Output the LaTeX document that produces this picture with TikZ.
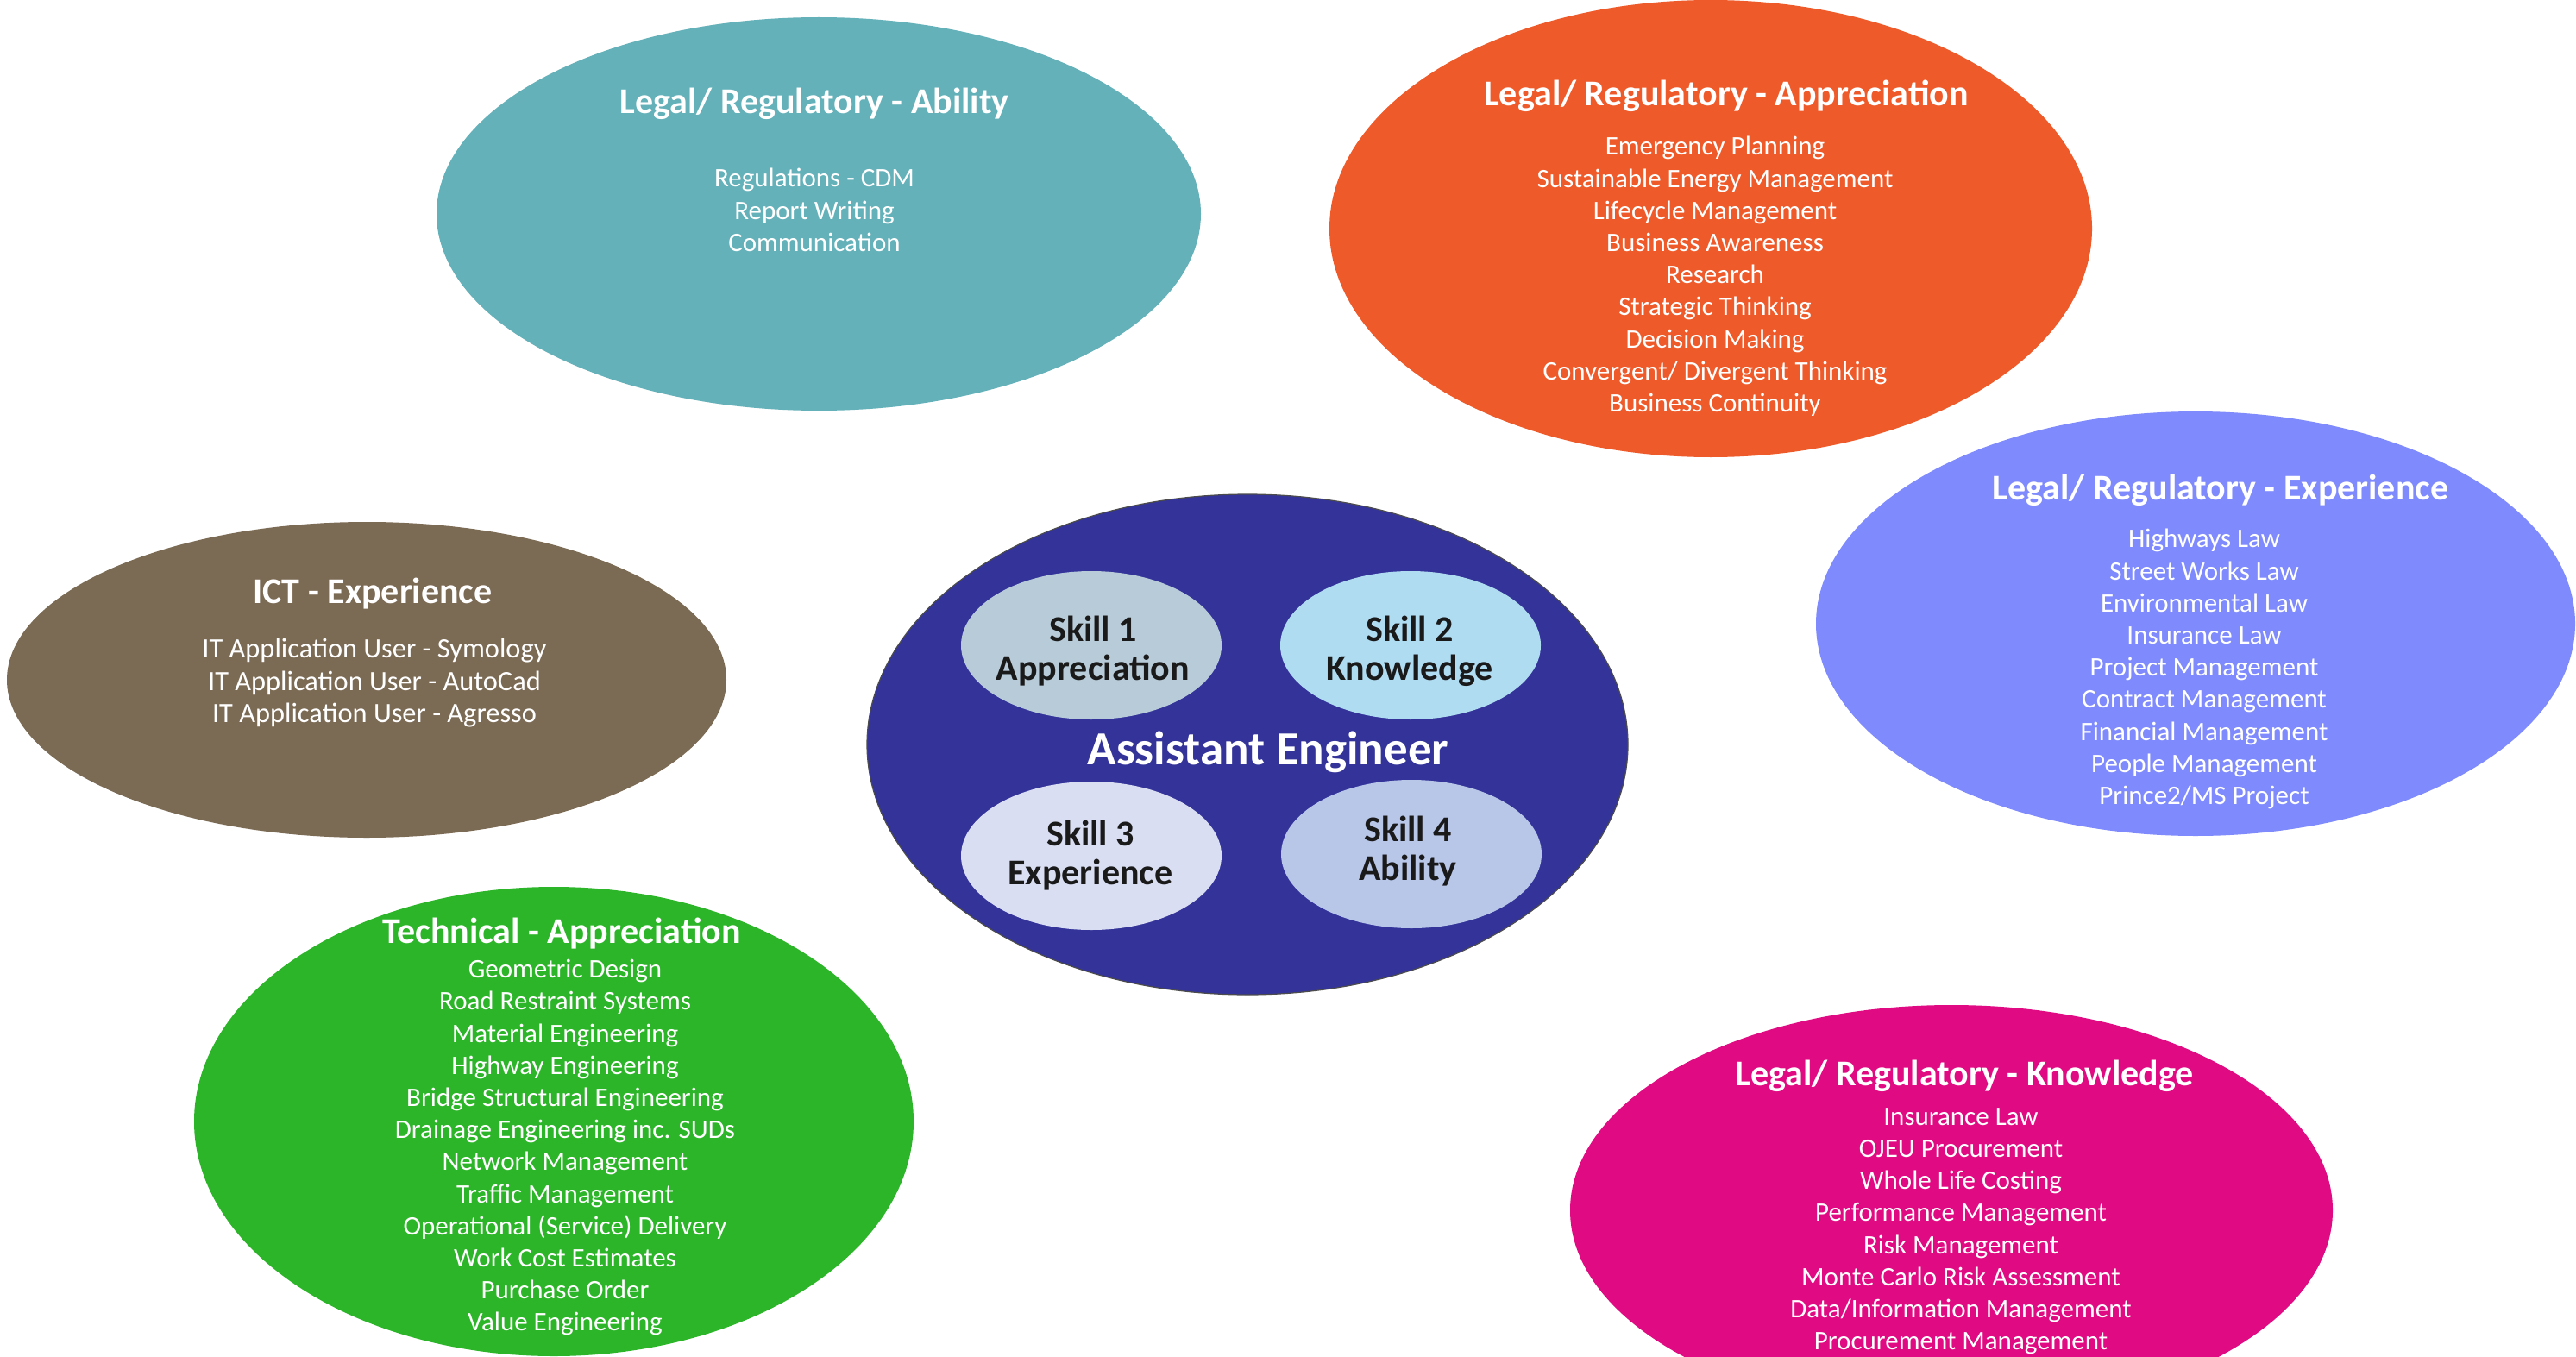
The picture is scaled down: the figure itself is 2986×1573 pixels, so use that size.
\documentclass[tikz,border=0pt]{standalone}
\usepackage{fontspec}
\setmainfont{Carlito}
\usetikzlibrary{shapes.geometric}
\definecolor{cteal}{HTML}{64B1B9}
\definecolor{corange}{HTML}{EF5A2A}
\definecolor{cperi}{HTML}{7F8BFC}
\definecolor{cbrown}{HTML}{7B6A54}
\definecolor{cnavy}{HTML}{333399}
\definecolor{cgreen}{HTML}{2DB52A}
\definecolor{cmagenta}{HTML}{E00B82}
\definecolor{sone}{HTML}{B8CBD8}
\definecolor{stwo}{HTML}{B0DCF2}
\definecolor{sthree}{HTML}{D9DEF2}
\definecolor{sfour}{HTML}{B8C6E8}
\definecolor{skilltext}{HTML}{1A1A1A}
\begin{document}
\begin{tikzpicture}[x=0.5pt,y=-0.5pt,
  blob/.style={ellipse, inner sep=0pt, draw=none},
  ttl/.style={text=white, font=\fontsize{21}{25}\selectfont\bfseries, inner sep=0pt},
  items/.style={text=white, font=\fontsize{15.5}{18.6}\selectfont, align=center, inner sep=0pt, anchor=north},
  skill/.style={text=skilltext, font=\fontsize{21}{22.5}\selectfont\bfseries, align=center, inner sep=0pt}]
\useasboundingbox (0,0) rectangle (2986,1573);
\clip (0,0) rectangle (2986,1573);

% Legal/Regulatory - Ability
\node[blob, fill=cteal, minimum width=443pt, minimum height=228pt] (abil) at (949,248) {};
\node[ttl] (abilT) at (944,120) {Legal/ Regulatory - Ability};
\node[items] (abilI) at (944,195) {Regulations - CDM\\Report Writing\\Communication};

% Legal/Regulatory - Appreciation
\node[blob, fill=corange, minimum width=442pt, minimum height=265pt] (appr) at (1983,265) {};
\node[ttl] (apprT) at (2001,111) {Legal/ Regulatory - Appreciation};
\node[items] (apprI) at (1988,158) {Emergency Planning\\Sustainable Energy Management\\Lifecycle Management\\Business Awareness\\Research\\Strategic Thinking\\Decision Making\\Convergent/ Divergent Thinking\\Business Continuity};

% Legal/Regulatory - Experience
\node[blob, fill=cperi, minimum width=440pt, minimum height=246pt] (expe) at (2545,723) {};
\node[ttl] (expeT) at (2574,568) {Legal/ Regulatory - Experience};
\node[items] (expeI) at (2555,613) {Highways Law\\Street Works Law\\Environmental Law\\Insurance Law\\Project Management\\Contract Management\\Financial Management\\People Management\\Prince2/MS Project};

% ICT - Experience
\node[blob, fill=cbrown, minimum width=417pt, minimum height=183pt] (ict) at (425,788) {};
\node[ttl] (ictT) at (432,688) {ICT - Experience};
\node[items, font=\fontsize{16.2}{18.6}\selectfont] (ictI) at (434,740) {IT Application User - Symology\\IT Application User - AutoCad\\IT Application User - Agresso};

% Technical - Appreciation
\node[blob, fill=cgreen, minimum width=417pt, minimum height=272pt] (tech) at (642,1300) {};
\node[ttl] (techT) at (651,1082) {Technical - Appreciation};
\node[items] (techI) at (655,1112) {Geometric Design\\Road Restraint Systems\\Material Engineering\\Highway Engineering\\Bridge Structural Engineering\\Drainage Engineering inc. SUDs\\Network Management\\Traffic Management\\Operational (Service) Delivery\\Work Cost Estimates\\Purchase Order\\Value Engineering};

% Legal/Regulatory - Knowledge
\node[blob, fill=cmagenta, minimum width=442pt, minimum height=238pt] (know) at (2262,1403) {};
\node[ttl] (knowT) at (2277,1247) {Legal/ Regulatory - Knowledge};
\node[items] (knowI) at (2273,1284) {Insurance Law\\OJEU Procurement\\Whole Life Costing\\Performance Management\\Risk Management\\Monte Carlo Risk Assessment\\Data/Information Management\\Procurement Management};

% Centre
\node[blob, fill=cnavy, draw=black!70, line width=0.6pt, minimum width=441pt, minimum height=290pt] (ae) at (1446,863) {};
\node[blob, fill=sone, minimum width=151pt, minimum height=86pt] (s1) at (1265,748) {};
\node[blob, fill=stwo, minimum width=151pt, minimum height=86pt] (s2) at (1635,748) {};
\node[blob, fill=sthree, minimum width=151pt, minimum height=86pt] (s3) at (1265,992) {};
\node[blob, fill=sfour, minimum width=151pt, minimum height=86pt] (s4) at (1636,990) {};
\node[skill] (s1T) at (1267,755) {Skill 1\\Appreciation};
\node[skill] (s2T) at (1634,755) {Skill 2\\Knowledge};
\node[skill] (s3T) at (1264,992) {Skill 3\\Experience};
\node[skill] (s4T) at (1632,987) {Skill 4\\Ability};
\node[text=white, font=\fontsize{27.5}{32}\selectfont\bfseries, inner sep=0pt] (aeT) at (1470,872) {Assistant Engineer};
\end{tikzpicture}
\end{document}
